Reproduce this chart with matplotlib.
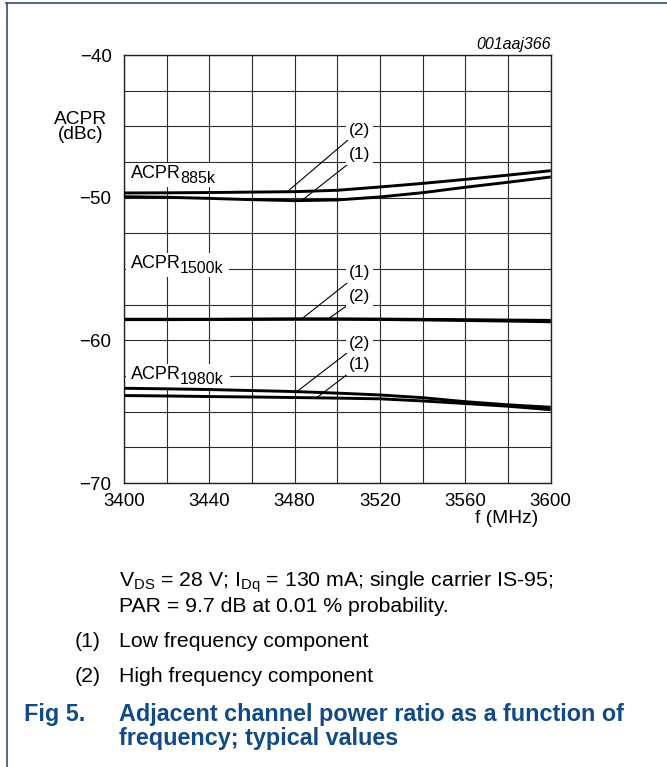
import numpy as np
import matplotlib
matplotlib.use("Agg")
import matplotlib.pyplot as plt
from matplotlib.lines import Line2D
from matplotlib.patches import Rectangle
from matplotlib.transforms import offset_copy, Bbox

plt.rcParams['font.family'] = ['Liberation Sans', 'DejaVu Sans']
plt.rcParams['mathtext.fontset'] = 'custom'
plt.rcParams['mathtext.rm'] = 'Liberation Sans'
plt.rcParams['mathtext.it'] = 'Liberation Sans:italic'
plt.rcParams['mathtext.bf'] = 'Liberation Sans:bold'

# ---------------- data ----------------
freq = [3400, 3420, 3440, 3460, 3480, 3500, 3520, 3540, 3560, 3580, 3600]
acpr885_low = [-49.93, -49.97, -50.05, -50.14, -50.21, -50.16, -49.95, -49.65, -49.27, -48.92, -48.55]
acpr885_high = [-49.67, -49.66, -49.64, -49.61, -49.58, -49.48, -49.25, -49.00, -48.72, -48.42, -48.11]
acpr1500_low = [-58.52, -58.52, -58.52, -58.51, -58.50, -58.50, -58.51, -58.53, -58.55, -58.58, -58.60]
acpr1500_high = [-58.55, -58.55, -58.54, -58.53, -58.52, -58.52, -58.54, -58.57, -58.61, -58.65, -58.70]
acpr1980_high = [-63.36, -63.40, -63.45, -63.52, -63.59, -63.70, -63.83, -64.02, -64.30, -64.52, -64.69]
acpr1980_low = [-63.87, -63.90, -63.94, -63.97, -64.01, -64.05, -64.10, -64.25, -64.43, -64.62, -64.86]

x_ticks = [3400, 3440, 3480, 3520, 3560, 3600]
y_ticks = [-70, -60, -50, -40]
series_main = ['ACPR', 'ACPR', 'ACPR']
series_sub = ['885k', '1500k', '1980k']

W, H = 667, 767
fig = plt.figure(figsize=(W / 100, H / 100), dpi=100)

def fx(px):
    return px / W

def fy(py):
    return 1 - py / H

ax_l, ax_r, ax_t, ax_b = 124, 550.7, 55, 483
ax = fig.add_axes([fx(ax_l), fy(ax_b), fx(ax_r - ax_l), (ax_b - ax_t) / H])
ax.set_xlim(3400, 3600)
ax.set_ylim(-70, -40)
ax.set_xticks(x_ticks)
ax.set_xticks(np.arange(3400, 3601, 20), minor=True)
ax.set_yticks(y_ticks)
ax.set_yticks(np.arange(-70, -39.9, 2.5), minor=True)
ax.grid(True, which='both', color='#2a2a2a', lw=0.8)
ax.set_axisbelow(True)
ax.tick_params(which='both', length=0, labelsize=13.5)
ax.tick_params(axis='x', pad=7)
ax.tick_params(axis='y', pad=9)
for s in ax.spines.values():
    s.set_linewidth(1.0)
    s.set_color('#222222')

curves = [acpr885_low, acpr885_high, acpr1500_low, acpr1500_high, acpr1980_high, acpr1980_low]
for c in curves:
    ax.plot(freq, c, color='black', lw=2.1, solid_capstyle='butt', zorder=3)

# annotations (label, text y, curve, curve x)
ann = [
    ('(2)', -45.26, acpr885_high, 3476.5),
    ('(1)', -47.0, acpr885_low, 3483.3),
    ('(1)', -55.28, acpr1500_low, 3483.3),
    ('(2)', -56.94, acpr1500_high, 3495.5),
    ('(2)', -60.2, acpr1980_high, 3481.0),
    ('(1)', -61.72, acpr1980_low, 3490.3),
]
for lab, ty, curve, cx in ann:
    cy = float(np.interp(cx, freq, curve))
    ax.annotate(lab, xy=(cx, cy), xytext=(3505.5, ty), fontsize=12.5,
                ha='left', va='center',
                bbox=dict(boxstyle='square,pad=0.15', fc='white', ec='none'),
                arrowprops=dict(arrowstyle='-', lw=0.8, color='black',
                                shrinkA=0, shrinkB=0),
                zorder=4)

# axis labels & id
fig.text(fx(81), fy(123.5), 'ACPR', fontsize=13.8, ha='center', va='baseline')
fig.text(fx(81), fy(139), '(dBc)', fontsize=13.8, ha='center', va='baseline')
fig.text(fx(538), fy(523), 'f (MHz)', fontsize=13.8, ha='right', va='baseline')
fig.text(fx(551), fy(49), '001aaj366', fontsize=11.5, style='italic', ha='right', va='baseline')

# series labels with white background
fig.canvas.draw()
r = fig.canvas.get_renderer()
lbl_y = [-48.64, -54.95, -62.73]
for m, sname, yy in zip(series_main, series_sub, lbl_y):
    t1 = ax.text(3403.5, yy, m, fontsize=13, ha='left', va='baseline', zorder=2.7)
    bb1 = t1.get_window_extent(r)
    tr = offset_copy(ax.transData, fig=fig, x=bb1.width - 1.5, y=-4.5, units='dots')
    t2 = ax.text(3403.5, yy, sname, fontsize=11.5, ha='left', va='baseline',
                 transform=tr, zorder=2.7)
    bb2 = t2.get_window_extent(r)
    u = Bbox.union([bb1, bb2])
    x0, y0 = u.x0 - 5, u.y0 - 1
    x1, y1 = u.x1 + 6, u.y1 + 2
    inv = ax.transAxes.inverted()
    (ax0, ay0), (ax1, ay1) = inv.transform([(x0, y0), (x1, y1)])
    ax.add_patch(Rectangle((ax0, ay0), ax1 - ax0, ay1 - ay0, transform=ax.transAxes,
                           fc='white', ec='none', zorder=2.6))

# notes
nfs = 15.3
fig.text(fx(119), fy(586.7), 'V$_{\\mathrm{DS}}$ = 28 V; I$_{\\mathrm{Dq}}$ = 130 mA; single carrier IS-95;',
         fontsize=nfs, ha='left', va='baseline')
fig.text(fx(119), fy(612), 'PAR = 9.7 dB at 0.01 % probability.', fontsize=nfs, ha='left', va='baseline')
fig.text(fx(75), fy(646.7), '(1)', fontsize=nfs, ha='left', va='baseline')
fig.text(fx(119), fy(646.7), 'Low frequency component', fontsize=nfs, ha='left', va='baseline')
fig.text(fx(75), fy(681.7), '(2)', fontsize=nfs, ha='left', va='baseline')
fig.text(fx(119), fy(681.7), 'High frequency component', fontsize=nfs, ha='left', va='baseline')

blue = '#124a86'
tfs = 16.8
fig.text(fx(24), fy(720.7), 'Fig 5.', fontsize=tfs, fontweight='bold', color=blue, ha='left', va='baseline')
fig.text(fx(119), fy(720.7), 'Adjacent channel power ratio as a function of', fontsize=tfs,
         fontweight='bold', color=blue, ha='left', va='baseline')
fig.text(fx(119), fy(745.5), 'frequency; typical values', fontsize=tfs,
         fontweight='bold', color=blue, ha='left', va='baseline')

# page border lines
border = '#1f3d6b'
fig.add_artist(Line2D([fx(6), 1], [fy(3), fy(3)], color=border, lw=1.1))
fig.add_artist(Line2D([fx(6.5), fx(6.5)], [fy(3), 0], color=border, lw=1.1))

fig.savefig('out.png', dpi=100)
